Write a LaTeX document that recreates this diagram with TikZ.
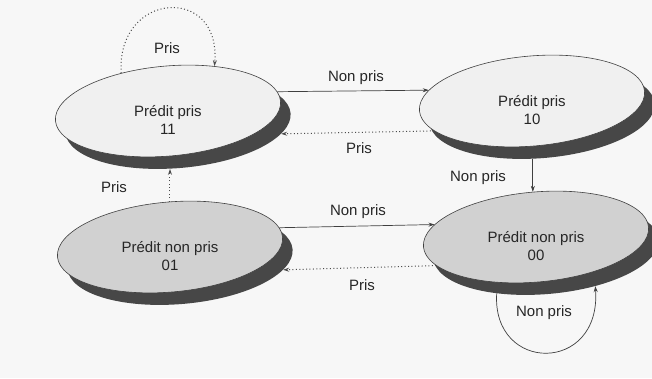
\documentclass[tikz,border=0pt]{standalone}
\usepackage{fontspec}
\setmainfont{Liberation Sans}
\usetikzlibrary{arrows.meta,shapes.geometric}

\begin{document}
\begin{tikzpicture}[x=1pt,y=-1pt,
  stateshape/.style={ellipse, minimum width=226pt, minimum height=90pt,
                     inner sep=0pt, rotate=5},
  state/.style={stateshape, draw=black!75, line width=0.6pt},
  shade/.style={stateshape, fill=black!72},
  light/.style={fill=black!6},
  dark/.style={fill=black!18},
  lbl/.style={font=\fontsize{15}{18}\selectfont, text=black!85, inner sep=0pt},
  txt/.style={lbl, align=center},
  solidarr/.style={draw=black!75, line width=0.7pt,
                   -{Stealth[length=6pt,width=4pt]}},
  dotarr/.style={draw=black!70, line width=1pt,
                 dash pattern=on 1pt off 2.4pt,
                 -{Stealth[length=6pt,width=4pt]}},
]
  % page
  \fill[black!3] (0,0) rectangle (652,378);
  \useasboundingbox (0,0) rectangle (652,378);

  % shadows under the four states
  \node[shade] (s11s) at (178,123) {};
  \node[shade] (s10s) at (542,113) {};
  \node[shade] (s01s) at (180,259) {};
  \node[shade] (s00s) at (546,249) {};

  % states
  \node[state, light] (s11) at (168,111) {};
  \node[state, light] (s10) at (532,101) {};
  \node[state, dark]  (s01) at (170,247) {};
  \node[state, dark]  (s00) at (536,237) {};

  \node[txt] (t11) at ([yshift=-9pt]s11.center) {Prédit pris\\11};
  \node[txt] (t10) at ([yshift=-9pt]s10.center) {Prédit pris\\10};
  \node[txt] (t01) at ([yshift=-9pt]s01.center) {Prédit non pris\\01};
  \node[txt] (t00) at ([yshift=-9pt]s00.center) {Prédit non pris\\00};

  % transitions
  \draw[solidarr] (s11.5) -- (s10.169);
  \draw[dotarr]   (s10.192) -- (s11s.349);
  \draw[solidarr] (s10s.254 -| s00.89) -- (s00.89);
  \draw[solidarr] (s01.5) -- (s00.168);
  \draw[dotarr]   (s00.191) -- (s01s.349);
  \draw[dotarr]   (s01.85) -- (s01.85 |- s11s.255);
  \draw[dotarr]   (s11.136) .. controls +(-5,-82) and +(7,-82) .. (s11.39);
  \draw[solidarr] (s00s.217) .. controls +(-5,80) and +(6,88) .. (s00s.318);

  % transition labels
  \node[lbl] (l1) at (167,48)  {Pris};
  \node[lbl] (l2) at (356,78)  {Non pris};
  \node[lbl] (l3) at (359,148) {Pris};
  \node[lbl] (l4) at (114,187) {Pris};
  \node[lbl] (l5) at (478,178) {Non pris};
  \node[lbl] (l6) at (358,212) {Non pris};
  \node[lbl] (l7) at (362,285) {Pris};
  \node[lbl] (l8) at (544,313) {Non pris};
\end{tikzpicture}
\end{document}
